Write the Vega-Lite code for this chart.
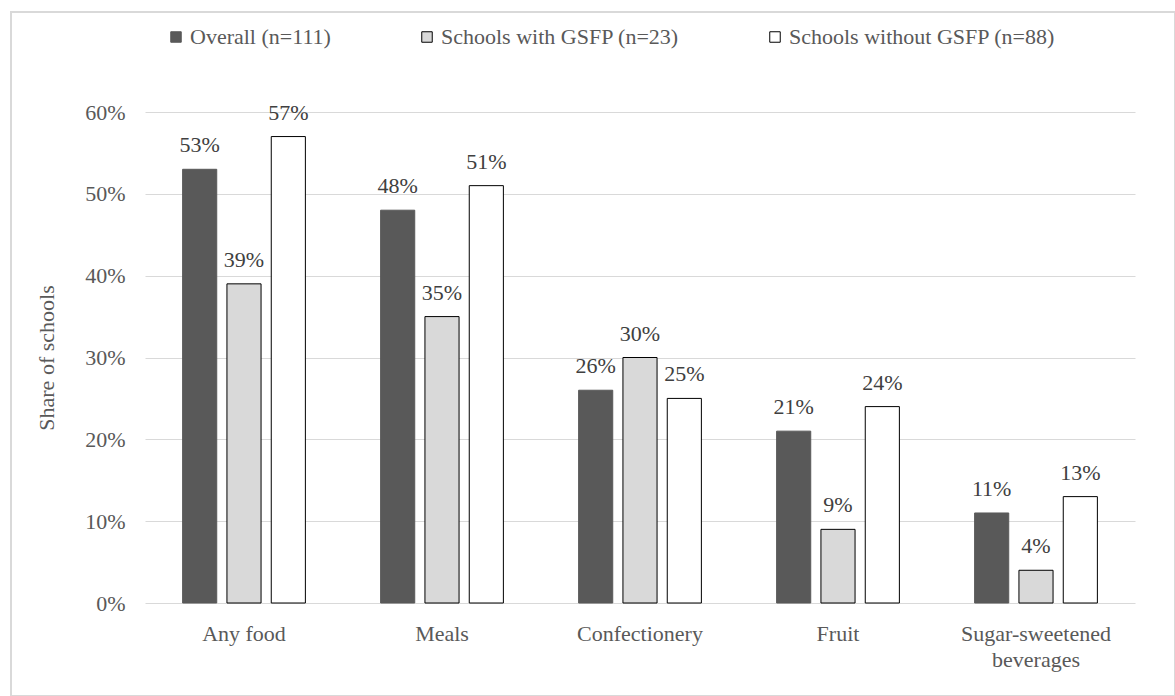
{
  "$schema": "https://vega.github.io/schema/vega-lite/v6.json",
  "autosize": {"type": "none"},
  "padding": {"left": 11, "top": 12, "right": 0, "bottom": 0},
  "width": 1164,
  "height": 684,
  "background": "white",
  "config": {
    "font": "Liberation Serif",
    "view": {"stroke": "#d9d9d9", "strokeWidth": 2},
    "axis": {"labelFont": "Liberation Serif", "titleFont": "Liberation Serif"},
    "legend": {"labelFont": "Liberation Serif"}
  },
  "data": {
    "values": [
      {"category": "Any food", "group": "Overall (n=111)", "share": 0.53},
      {"category": "Any food", "group": "Schools with GSFP (n=23)", "share": 0.39},
      {"category": "Any food", "group": "Schools without GSFP (n=88)", "share": 0.57},
      {"category": "Meals", "group": "Overall (n=111)", "share": 0.48},
      {"category": "Meals", "group": "Schools with GSFP (n=23)", "share": 0.35},
      {"category": "Meals", "group": "Schools without GSFP (n=88)", "share": 0.51},
      {"category": "Confectionery", "group": "Overall (n=111)", "share": 0.26},
      {"category": "Confectionery", "group": "Schools with GSFP (n=23)", "share": 0.30},
      {"category": "Confectionery", "group": "Schools without GSFP (n=88)", "share": 0.25},
      {"category": "Fruit", "group": "Overall (n=111)", "share": 0.21},
      {"category": "Fruit", "group": "Schools with GSFP (n=23)", "share": 0.09},
      {"category": "Fruit", "group": "Schools without GSFP (n=88)", "share": 0.24},
      {"category": "Sugar-sweetened beverages", "group": "Overall (n=111)", "share": 0.11},
      {"category": "Sugar-sweetened beverages", "group": "Schools with GSFP (n=23)", "share": 0.04},
      {"category": "Sugar-sweetened beverages", "group": "Schools without GSFP (n=88)", "share": 0.13}
    ]
  },
  "encoding": {
    "x": {
      "field": "category",
      "type": "nominal",
      "sort": null,
      "scale": {"paddingInner": 0.38, "paddingOuter": 0.19, "range": [134, 1124]},
      "axis": {
        "title": null,
        "offset": -93,
        "labelAngle": 0,
        "ticks": false,
        "domain": false,
        "labelFontSize": 22,
        "labelColor": "#595959",
        "labelPadding": 20,
        "labelLineHeight": 26,
        "labelLimit": 0,
        "labelExpr": "datum.value == 'Sugar-sweetened beverages' ? ['Sugar-sweetened', 'beverages'] : datum.value"
      }
    },
    "xOffset": {
      "field": "group",
      "type": "nominal",
      "sort": null,
      "scale": {"paddingInner": 0.23, "paddingOuter": 0}
    },
    "y": {
      "field": "share",
      "type": "quantitative",
      "scale": {"domain": [0, 0.6], "nice": false, "range": [591, 100]},
      "axis": {
        "title": "Share of schools",
        "offset": -134,
        "titleFontSize": 22,
        "titleFontWeight": "normal",
        "titleColor": "#595959",
        "titlePadding": 26,
        "format": ".0%",
        "values": [0, 0.1, 0.2, 0.3, 0.4, 0.5, 0.6],
        "labelFontSize": 22,
        "labelColor": "#595959",
        "labelPadding": 20,
        "ticks": false,
        "domain": false,
        "gridColor": "#d9d9d9",
        "gridWidth": 1
      }
    }
  },
  "layer": [
    {
      "mark": {"type": "bar", "strokeWidth": 1},
      "encoding": {
        "fill": {
          "field": "group",
          "type": "nominal",
          "sort": null,
          "scale": {"range": ["#595959", "#d9d9d9", "#ffffff"]},
          "legend": {
            "title": null,
            "orient": "none",
            "direction": "horizontal",
            "legendX": 154,
            "legendY": 14,
            "symbolType": "square",
            "symbolSize": 110,
            "symbolStrokeWidth": 1,
            "symbolOpacity": 1,
            "labelFontSize": 22,
            "labelColor": "#595959",
            "labelOffset": 3,
            "labelLimit": 0,
            "columnPadding": 85
          }
        },
        "stroke": {
          "field": "group",
          "type": "nominal",
          "sort": null,
          "scale": {"range": ["#595959", "#000000", "#000000"]},
          "legend": {
            "title": null,
            "orient": "none",
            "direction": "horizontal",
            "legendX": 154,
            "legendY": 14,
            "symbolType": "square",
            "symbolSize": 110,
            "symbolStrokeWidth": 1,
            "symbolOpacity": 1,
            "labelFontSize": 22,
            "labelColor": "#595959",
            "labelOffset": 3,
            "labelLimit": 0,
            "columnPadding": 85
          }
        }
      }
    },
    {
      "mark": {"type": "text", "baseline": "bottom", "dy": -12, "fontSize": 22, "color": "#404040"},
      "encoding": {
        "text": {"field": "share", "type": "quantitative", "format": ".0%"}
      }
    }
  ]
}
